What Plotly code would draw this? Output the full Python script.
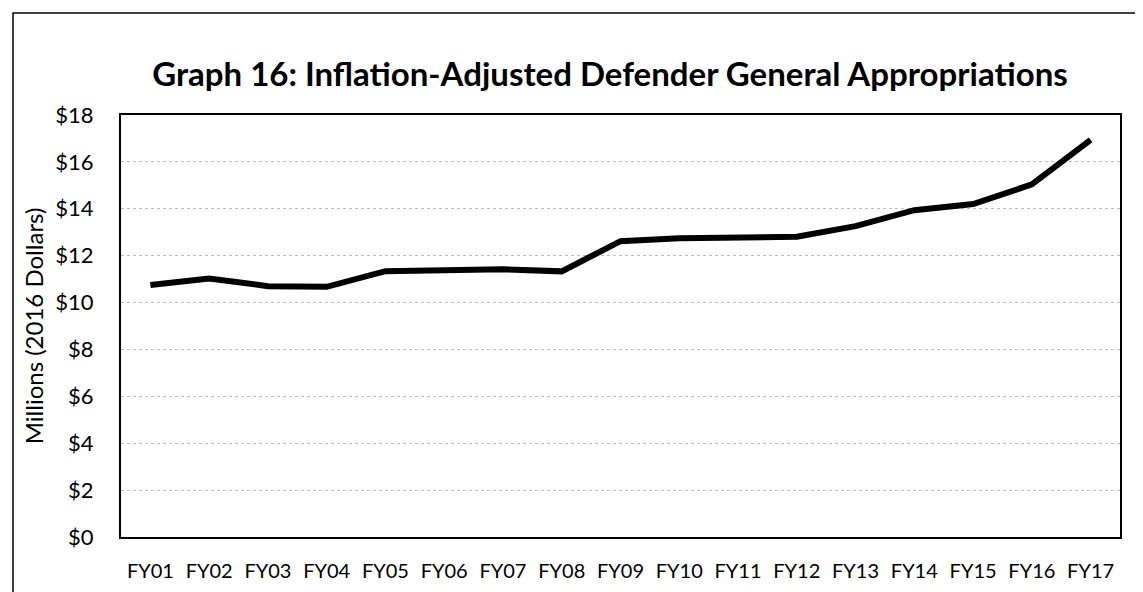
import plotly.graph_objects as go

categories = ["FY01", "FY02", "FY03", "FY04", "FY05", "FY06", "FY07", "FY08", "FY09",
              "FY10", "FY11", "FY12", "FY13", "FY14", "FY15", "FY16", "FY17"]
values = [10.75, 11.03, 10.70, 10.67, 11.34, 11.35, 11.42, 11.33, 12.62,
          12.74, 12.76, 12.81, 13.26, 13.94, 14.20, 15.04, 16.94]
y_ticks = [0, 2, 4, 6, 8, 10, 12, 14, 16, 18]
y_tick_labels = ["$" + str(v) for v in y_ticks]

W, H = 1143, 592
L, R, T, B = 113, 31, 107, 63
pw, ph = W - L - R, H - T - B

FONT = "Lato, 'Open Sans', sans-serif"

fig = go.Figure()
fig.add_trace(go.Scatter(
    x=categories, y=values, mode="lines",
    line=dict(color="black", width=6),
    showlegend=False, hoverinfo="x+y",
))

def px_x(p):
    return (p - L) / pw

def px_y(p):
    return (H - B - p) / ph

fig.update_layout(
    width=W, height=H,
    margin=dict(l=L, r=R, t=T, b=B),
    paper_bgcolor="white", plot_bgcolor="white",
    font=dict(family=FONT, color="black"),
    title=dict(
        text="<b>Graph 16: Inflation-Adjusted Defender General Appropriations</b>",
        xref="container", x=602 / W, xanchor="center",
        yref="container", y=1 - 66 / H, yanchor="middle",
        font=dict(size=33, family=FONT, color="black"),
    ),
    xaxis=dict(
        type="category", range=[-0.5, len(categories) - 0.5],
        showgrid=False, showline=True, linecolor="black",
        linewidth=2, mirror=True, ticks="", tickfont=dict(size=20),
        ticklabelstandoff=15,
    ),
    yaxis=dict(
        range=[0, 18], tickvals=y_ticks, ticktext=y_tick_labels,
        showgrid=True, gridcolor="#bdbdbd", griddash="dot", gridwidth=1,
        showline=True, linecolor="black", linewidth=2, mirror=True,
        ticks="", tickfont=dict(size=22), ticklabelstandoff=21,
        zeroline=False,
        title=dict(text="Millions (2016 Dollars)", font=dict(size=24), standoff=5),
    ),
    shapes=[dict(
        type="rect", xref="paper", yref="paper",
        x0=px_x(5), x1=px_x(1139), y0=px_y(590), y1=px_y(5),
        line=dict(color="black", width=1.5), fillcolor="rgba(0,0,0,0)", layer="below",
    )],
)

fig.write_html("out.html")
